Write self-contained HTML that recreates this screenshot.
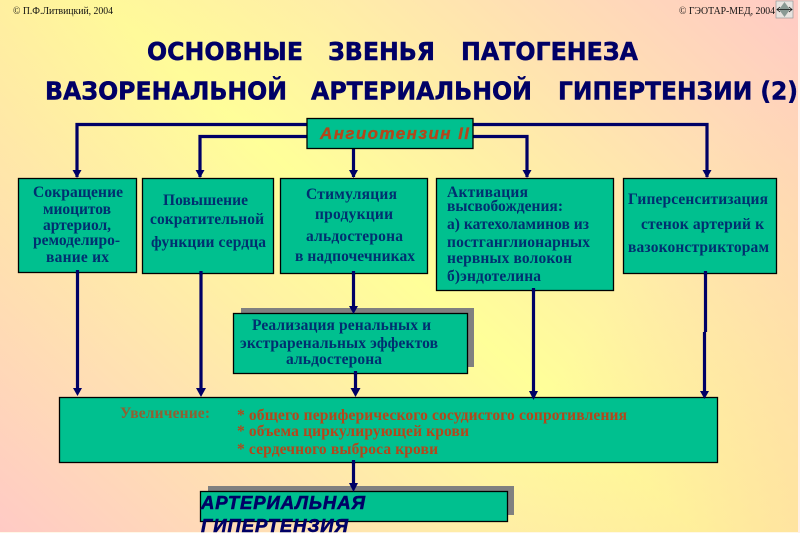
<!DOCTYPE html>
<html lang="ru">
<head>
<meta charset="utf-8">
<title>Основные звенья патогенеза</title>
<style>
html,body{margin:0;padding:0;width:800px;height:533px;overflow:hidden;background:#fff}
svg{display:block}
.t{font-family:"DejaVu Sans",sans-serif;font-weight:bold;font-size:25px;fill:#000066;stroke:#000066;stroke-width:0.5}
.b{font-family:"Liberation Serif",serif;font-weight:bold;font-size:15.500px;fill:#002f70}
.r{font-family:"Liberation Serif",serif;font-weight:bold;font-size:15.500px;fill:#b5461a}
.s{font-family:"Liberation Serif",serif;font-size:10.500px;fill:#111}
.h{font-family:"Liberation Sans",sans-serif;font-weight:bold;font-style:italic;font-size:18.500px;fill:#000066;stroke:#000066;stroke-width:0.6}
.box{fill:#00c08f;stroke:#000;stroke-width:1.3}
.sh{fill:#808080}
.l{stroke:#000066;stroke-width:3.2;fill:none}
.a{fill:#000066}
</style>
</head>
<body>
<svg width="800" height="533" viewBox="0 0 800 533" xmlns="http://www.w3.org/2000/svg">
<defs>
<linearGradient id="bg" gradientUnits="userSpaceOnUse" x1="70" y1="640" x2="730" y2="-107">
<stop offset="0" stop-color="#ffc6c8"/>
<stop offset="0.5" stop-color="#ffff99"/>
<stop offset="1" stop-color="#ffc6c8"/>
</linearGradient>
<linearGradient id="ov" gradientUnits="userSpaceOnUse" x1="0" y1="0" x2="800" y2="533">
<stop offset="0" stop-color="#ffd0a0" stop-opacity="0.2"/>
<stop offset="0.3" stop-color="#ffd0a0" stop-opacity="0"/>
<stop offset="0.7" stop-color="#ffd0a0" stop-opacity="0"/>
<stop offset="1" stop-color="#ffd0a0" stop-opacity="0.5"/>
</linearGradient>
</defs>
<rect width="800" height="533" fill="url(#bg)"/>
<rect width="800" height="533" fill="url(#ov)"/>
<rect x="0" y="532" width="800" height="1" fill="#fff8e8"/>
<rect x="798" y="0" width="2" height="533" fill="#fff0e8"/>

<text class="s" x="13" y="14" textLength="100" lengthAdjust="spacingAndGlyphs">© П.Ф.Литвицкий, 2004</text>
<text class="s" x="679" y="14" textLength="96" lengthAdjust="spacingAndGlyphs">© ГЭОТАР-МЕД, 2004</text>
<rect x="776" y="1" width="17" height="17" fill="#e8e4e0" stroke="#999" stroke-width="0.7"/>
<path d="M784.500 2 L790 9.500 L784.500 17 L779 9.500Z" fill="#8a9a94"/>
<path d="M777 9.500H792M789 7l3 2.500-3 2.500M780 7l-3 2.500 3 2.500" stroke="#111" stroke-width="0.8" fill="none"/>

<text class="t" x="147" y="60" textLength="156" lengthAdjust="spacingAndGlyphs">ОСНОВНЫЕ</text>
<text class="t" x="328" y="60" textLength="107" lengthAdjust="spacingAndGlyphs">ЗВЕНЬЯ</text>
<text class="t" x="461" y="60" textLength="177" lengthAdjust="spacingAndGlyphs">ПАТОГЕНЕЗА</text>
<text class="t" x="45" y="99.500" textLength="242" lengthAdjust="spacingAndGlyphs">ВАЗОРЕНАЛЬНОЙ</text>
<text class="t" x="311" y="99.500" textLength="221" lengthAdjust="spacingAndGlyphs">АРТЕРИАЛЬНОЙ</text>
<text class="t" x="558" y="99.500" textLength="240" lengthAdjust="spacingAndGlyphs">ГИПЕРТЕНЗИИ (2)</text>

<!-- shadows -->
<rect class="sh" x="241" y="308" width="233" height="59"/>
<rect class="sh" x="208" y="486" width="306" height="29"/>

<!-- connectors -->
<path class="l" d="M77 177V124.500H707V177"/>
<path class="l" d="M200 177V136.500H527V177"/>
<path class="l" d="M353.500 148V177"/>
<path class="l" d="M77.500 272V392"/>
<path class="l" d="M201 272V392"/>
<path class="l" d="M353.500 272V310"/>
<path class="l" d="M355.500 372V392"/>
<path class="l" d="M533.500 290V394"/>
<path class="l" d="M705.500 272V332"/>
<path class="l" d="M704.500 332V394"/>
<path class="l" d="M353.500 460V488"/>

<!-- boxes -->
<rect class="box" x="307" y="118.500" width="166" height="30"/>
<rect class="box" x="18.500" y="178.500" width="118" height="94"/>
<rect class="box" x="142.500" y="178.500" width="131" height="95"/>
<rect class="box" x="280.500" y="178.500" width="147" height="95"/>
<rect class="box" x="436.500" y="178.500" width="177" height="112"/>
<rect class="box" x="623.500" y="178.500" width="153" height="95"/>
<rect class="box" x="233.500" y="313.500" width="234" height="60"/>
<rect class="box" x="59.500" y="397.500" width="658" height="65"/>
<rect class="box" x="200.500" y="491.500" width="307" height="30"/>

<!-- connector stubs over box edges -->
<path class="l" d="M77.500 270V274M201 271V275M353.500 271V275M533.500 288V292M705.500 271V275M355.500 371V375M353.500 460V464"/>

<!-- arrowheads -->
<path class="a" d="M72.500 170H81.500L77 178Z"/>
<path class="a" d="M195.500 170H204.500L200 178Z"/>
<path class="a" d="M349 170H358L353.500 178Z"/>
<path class="a" d="M522.500 170H531.500L527 178Z"/>
<path class="a" d="M702.500 170H711.500L707 178Z"/>
<path class="a" d="M349 306H358L353.500 314Z"/>
<path class="a" d="M73 388H82L77.500 396Z"/>
<path class="a" d="M196 388H206L201 397Z"/>
<path class="a" d="M350.500 388H360.500L355.500 397Z"/>
<path class="a" d="M529 391H538L533.500 400Z"/>
<path class="a" d="M700 391H709L704.500 399Z"/>
<path class="a" d="M349 483H358L353.500 492Z"/>

<!-- labels -->
<text x="320" y="139" font-family="'Liberation Sans',sans-serif" font-weight="bold" font-style="italic" font-size="17" fill="#b5461a" stroke="#b5461a" stroke-width="0.3" textLength="149" lengthAdjust="spacing">Ангиотензин II</text>

<text class="b" x="33" y="197" textLength="90" lengthAdjust="spacing">Сокращение</text>
<text class="b" x="43" y="214" textLength="68" lengthAdjust="spacing">миоцитов</text>
<text class="b" x="43" y="230" textLength="68" lengthAdjust="spacing">артериол,</text>
<text class="b" x="33" y="245" textLength="87" lengthAdjust="spacing">ремоделиро-</text>
<text class="b" x="46" y="262" textLength="63" lengthAdjust="spacing">вание их</text>

<text class="b" x="163" y="205" textLength="85" lengthAdjust="spacing">Повышение</text>
<text class="b" x="150" y="224" textLength="114" lengthAdjust="spacing">сократительной</text>
<text class="b" x="151" y="247" textLength="115" lengthAdjust="spacing">функции сердца</text>

<text class="b" x="306" y="199" textLength="91" lengthAdjust="spacing">Стимуляция</text>
<text class="b" x="315" y="219" textLength="78" lengthAdjust="spacing">продукции</text>
<text class="b" x="306" y="241" textLength="97" lengthAdjust="spacing">альдостерона</text>
<text class="b" x="295" y="261" textLength="120" lengthAdjust="spacing">в надпочечниках</text>

<text class="b" x="447" y="197" textLength="81" lengthAdjust="spacing">Активация</text>
<text class="b" x="447" y="211" textLength="116" lengthAdjust="spacing">высвобождения:</text>
<text class="b" x="447" y="229" textLength="142" lengthAdjust="spacing">а) катехоламинов из</text>
<text class="b" x="447" y="247" textLength="143" lengthAdjust="spacing">постганглионарных</text>
<text class="b" x="447" y="263" textLength="125" lengthAdjust="spacing">нервных волокон</text>
<text class="b" x="447" y="281" textLength="94" lengthAdjust="spacing">б)эндотелина</text>

<text class="b" x="628" y="204" textLength="140" lengthAdjust="spacing">Гиперсенситизация</text>
<text class="b" x="641" y="229" textLength="123" lengthAdjust="spacing">стенок артерий к</text>
<text class="b" x="628" y="252" textLength="141" lengthAdjust="spacing">вазоконстрикторам</text>

<text class="b" x="252" y="330" textLength="179" lengthAdjust="spacing">Реализация ренальных и</text>
<text class="b" x="240" y="348" textLength="198" lengthAdjust="spacing">экстраренальных эффектов</text>
<text class="b" x="286" y="364" textLength="96" lengthAdjust="spacing">альдостерона</text>

<text class="r" x="120" y="418" fill-opacity="0.8" textLength="90" lengthAdjust="spacing">Увеличение:</text>
<text class="r" x="237" y="420" textLength="390" lengthAdjust="spacing">* общего периферического сосудистого сопротивления</text>
<text class="r" x="237" y="436" textLength="232" lengthAdjust="spacing">* объема циркулирующей крови</text>
<text class="r" x="237" y="454" textLength="201" lengthAdjust="spacing">* сердечного выброса крови</text>

<text class="h" x="201" y="509" textLength="164" lengthAdjust="spacing">АРТЕРИАЛЬНАЯ</text>
<text class="h" x="201" y="532" textLength="147" lengthAdjust="spacing">ГИПЕРТЕНЗИЯ</text>
</svg>
</body>
</html>
